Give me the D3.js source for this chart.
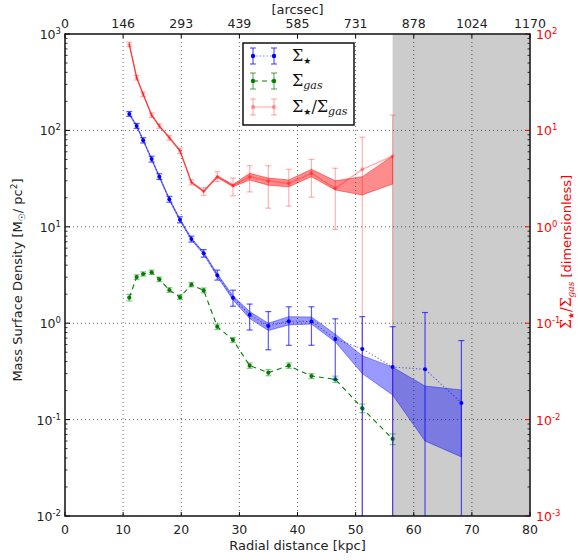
<!DOCTYPE html>
<html>
<head>
<meta charset="utf-8">
<script src="https://cdn.jsdelivr.net/npm/d3@7"></script>
<style>
  body { margin: 0; background: #fff; }
  svg { display: block; font-family: "DejaVu Sans", sans-serif; }
</style>
</head>
<body>
<svg id="chart" width="578" height="560"></svg>
<script>
// ---------- data ----------
const radius = [11.06, 12.33, 13.45, 14.9, 16.23, 17.95, 19.78, 21.74, 23.86, 26.2, 28.9, 31.77, 34.98, 38.5, 42.4, 46.5, 51.15, 56.37, 61.94, 68.2];

const sigmaStar   = [148, 111, 79, 50.5, 33.1, 19.3, 11.8, 7.47, 5.31, 3.14, 1.84, 1.22, 0.935, 1.05, 1.04, 0.685, 0.54, 0.351, 0.333, 0.149];
const starErrLo   = [140, 105, 74, 47, 31, 18, 11, 6.95, 4.85, 2.8, 1.5, 0.85, 0.53, 0.59, 0.59, 0.26, 0.001, 0.001, 0.001, 0.001];
const starErrHi   = [157, 118, 84, 54, 35.5, 20.7, 12.7, 8.0, 5.8, 3.55, 2.2, 1.58, 1.32, 1.48, 1.48, 1.11, 1.17, 0.92, 1.29, 0.66];
const starBandLo  = [145, 109, 77.5, 49.5, 32.4, 18.9, 11.55, 7.3, 5.18, 3.05, 1.74, 1.12, 0.84, 0.96, 0.98, 0.64, 0.30, 0.18, 0.06, 0.041];
const starBandHi  = [151, 113, 80.5, 51.5, 33.8, 19.7, 12.05, 7.65, 5.45, 3.25, 1.93, 1.32, 1.0, 1.17, 1.16, 0.77, 0.46, 0.35, 0.223, 0.203];

const sigmaGas    = [1.84, 3.01, 3.24, 3.37, 2.85, 2.21, 1.86, 2.51, 2.19, 0.92, 0.67, 0.363, 0.307, 0.363, 0.283, 0.262, 0.131, 0.063];
const gasErrLo    = [1.70, 2.85, 3.08, 3.20, 2.70, 2.09, 1.76, 2.38, 2.07, 0.86, 0.63, 0.34, 0.285, 0.34, 0.266, 0.243, 0.118, 0.055];
const gasErrHi    = [1.99, 3.18, 3.41, 3.55, 3.01, 2.34, 1.97, 2.65, 2.32, 0.98, 0.71, 0.387, 0.33, 0.387, 0.30, 0.282, 0.145, 0.071];

const ratio       = [78.2, 35.2, 23.7, 14.4, 11.1, 8.4, 6.16, 2.90, 2.33, 3.31, 2.67, 3.31, 2.99, 2.82, 3.59, 2.51, 3.95, 5.42];
const ratioErrLo  = [74, 33.3, 22.4, 13.6, 10.5, 7.9, 5.75, 2.72, 2.12, 2.94, 2.1, 2.3, 1.56, 1.64, 2.03, 0.94, 0.0001, 0.0001];
const ratioErrHi  = [82.5, 37.2, 25.0, 15.2, 11.7, 8.9, 6.55, 3.08, 2.55, 3.73, 3.2, 4.3, 4.3, 3.95, 5.0, 4.05, 8.5, 14.4];
const ratioBandLo = [77, 34.7, 23.35, 14.2, 10.95, 8.28, 6.07, 2.86, 2.29, 3.24, 2.61, 3.06, 2.7, 2.6, 3.31, 2.41, 2.14, 2.78];
const ratioBandHi = [79.4, 35.7, 24.05, 14.6, 11.25, 8.52, 6.25, 2.94, 2.37, 3.38, 2.74, 3.59, 3.2, 3.06, 3.95, 3.0, 3.31, 5.42];

const excludedFrom = 56.37;
const xTicks = [0, 10, 20, 30, 40, 50, 60, 70, 80];
const arcsecLabels = ["0", "146", "293", "439", "585", "731", "878", "1024", "1170"];
const leftExps = [-2, -1, 0, 1, 2, 3];
const rightExps = [-3, -2, -1, 0, 1, 2];

// ---------- layout ----------
const L = 65, R = 530, T = 34, B = 516;
const svg = d3.select("#chart");
const x = d3.scaleLinear().domain([0, 80]).range([L, R]);
const y = d3.scaleLog().domain([1e-2, 1e3]).range([B, T]);
const yR = d3.scaleLog().domain([1e-3, 1e2]).range([B, T]);

svg.append("defs").append("clipPath").attr("id", "clip")
  .append("rect").attr("x", L).attr("y", T).attr("width", R - L).attr("height", B - T);

const plot = svg.append("g").attr("clip-path", "url(#clip)");

// gray excluded region
plot.append("rect")
  .attr("x", x(excludedFrom)).attr("y", T)
  .attr("width", x(80) - x(excludedFrom)).attr("height", B - T)
  .attr("fill", "#cccccc");

// grid
const grid = plot.append("g").attr("stroke", "#000").attr("stroke-width", 0.8)
  .attr("stroke-dasharray", "1,3").attr("opacity", 0.75);
xTicks.slice(1, -1).forEach(t => grid.append("line").attr("x1", x(t)).attr("x2", x(t)).attr("y1", T).attr("y2", B));
leftExps.slice(1, -1).forEach(e => grid.append("line").attr("x1", L).attr("x2", R).attr("y1", y(Math.pow(10, e))).attr("y2", y(Math.pow(10, e))));

// helpers
function band(xs, lo, hi, yScale, color, op) {
  const idx = d3.range(lo.length);
  const area = d3.area().x(i => x(xs[i])).y0(i => yScale(lo[i])).y1(i => yScale(hi[i]));
  plot.append("path").datum(idx).attr("d", area)
    .attr("fill", color).attr("fill-opacity", op)
    .attr("stroke", color).attr("stroke-opacity", op).attr("stroke-width", 1);
}
function errbars(g, xs, lo, hi, yScale, color, op, cap) {
  const idx = d3.range(lo.length);
  const gg = g.append("g").attr("stroke", color).attr("stroke-opacity", op).attr("stroke-width", 1.2);
  idx.forEach(i => {
    const cx = x(xs[i]);
    gg.append("line").attr("x1", cx).attr("x2", cx).attr("y1", yScale(lo[i])).attr("y2", yScale(hi[i]));
    gg.append("line").attr("x1", cx - cap).attr("x2", cx + cap).attr("y1", yScale(lo[i])).attr("y2", yScale(lo[i]));
    gg.append("line").attr("x1", cx - cap).attr("x2", cx + cap).attr("y1", yScale(hi[i])).attr("y2", yScale(hi[i]));
  });
}

const rGas = radius.slice(0, sigmaGas.length);

// bands
band(radius, starBandLo, starBandHi, y, "#0000ff", 0.4);
band(rGas, ratioBandLo, ratioBandHi, yR, "#ff0000", 0.45);

// red ratio line (light)
const lineR = d3.line().x(i => x(rGas[i])).y(i => yR(ratio[i]));
plot.append("path").datum(d3.range(ratio.length)).attr("d", lineR)
  .attr("fill", "none").attr("stroke", "#ff0000").attr("stroke-opacity", 0.3).attr("stroke-width", 1.5);
errbars(plot, rGas, ratioErrLo, ratioErrHi, yR, "#ff0000", 0.3, 3);
plot.append("g").selectAll("circle").data(d3.range(ratio.length)).join("circle")
  .attr("cx", i => x(rGas[i])).attr("cy", i => yR(ratio[i])).attr("r", 2)
  .attr("fill", "#ff0000").attr("fill-opacity", 0.3);

// green gas
const lineG = d3.line().x(i => x(rGas[i])).y(i => y(sigmaGas[i]));
plot.append("path").datum(d3.range(sigmaGas.length)).attr("d", lineG)
  .attr("fill", "none").attr("stroke", "#008000").attr("stroke-width", 1.1).attr("stroke-dasharray", "5,4");
errbars(plot, rGas, gasErrLo, gasErrHi, y, "#008000", 0.45, 3);
plot.append("g").selectAll("circle").data(d3.range(sigmaGas.length)).join("circle")
  .attr("cx", i => x(rGas[i])).attr("cy", i => y(sigmaGas[i])).attr("r", 2.1)
  .attr("fill", "#008000");

// blue stars
const lineB = d3.line().x(i => x(radius[i])).y(i => y(sigmaStar[i]));
plot.append("path").datum(d3.range(sigmaStar.length)).attr("d", lineB)
  .attr("fill", "none").attr("stroke", "#0000ff").attr("stroke-opacity", 0.6).attr("stroke-width", 1.1).attr("stroke-dasharray", "1.2,2.2");
errbars(plot, radius, starErrLo, starErrHi, y, "#0000ff", 0.65, 3);
plot.append("g").selectAll("circle").data(d3.range(sigmaStar.length)).join("circle")
  .attr("cx", i => x(radius[i])).attr("cy", i => y(sigmaStar[i])).attr("r", 2)
  .attr("fill", "#0000ff");

// ---------- axes ----------
const ax = svg.append("g");
xTicks.forEach((t, i) => {
  ax.append("line").attr("x1", x(t)).attr("x2", x(t)).attr("y1", B).attr("y2", B - 4).attr("stroke", "#000");
  ax.append("line").attr("x1", x(t)).attr("x2", x(t)).attr("y1", T).attr("y2", T + 4).attr("stroke", "#000");
  ax.append("text").attr("x", x(t)).attr("y", B + 18).attr("text-anchor", "middle")
    .attr("font-size", 12.5).attr("fill", "#222").text(t);
  ax.append("text").attr("x", x(t)).attr("y", T - 6).attr("text-anchor", "middle")
    .attr("font-size", 12.5).attr("fill", "#222").text(arcsecLabels[i]);
});
function logTicks(scale, exps, xPos, dir, majorColor) {
  exps.forEach((e, k) => {
    const v = Math.pow(10, e);
    ax.append("line").attr("x1", xPos).attr("x2", xPos + dir * 5).attr("y1", scale(v)).attr("y2", scale(v))
      .attr("stroke", majorColor).attr("stroke-width", 1);
    if (k < exps.length - 1) {
      for (let m = 2; m <= 9; m++) {
        const yy = scale(m * v);
        ax.append("line").attr("x1", xPos).attr("x2", xPos + dir * 2.5).attr("y1", yy).attr("y2", yy)
          .attr("stroke", "#000").attr("stroke-width", 0.8);
      }
    }
  });
}
logTicks(y, leftExps, L, 1, "#000");
logTicks(yR, rightExps, R, -1, "#ff0000");

function powLabel(xPos, yPos, exp, color, anchor) {
  const t = ax.append("text").attr("x", xPos).attr("y", yPos + 5).attr("text-anchor", anchor)
    .attr("font-size", 12.5).attr("fill", color);
  t.append("tspan").text("10");
  t.append("tspan").attr("font-size", 8.5).attr("dy", -5).text(exp);
}
leftExps.forEach(e => powLabel(L - 4, y(Math.pow(10, e)), e, "#222", "end"));
rightExps.forEach(e => powLabel(R + 6, yR(Math.pow(10, e)), e, "#ff0000", "start"));

// frame
svg.append("rect").attr("x", L).attr("y", T).attr("width", R - L).attr("height", B - T)
  .attr("fill", "none").attr("stroke", "#111").attr("stroke-width", 1.5);

// axis titles
svg.append("text").attr("x", (L + R) / 2).attr("y", 550).attr("text-anchor", "middle")
  .attr("font-size", 13).attr("fill", "#222").text("Radial distance [kpc]");
svg.append("text").attr("x", (L + R) / 2).attr("y", 14).attr("text-anchor", "middle")
  .attr("font-size", 13).attr("fill", "#222").text("[arcsec]");

const yl = svg.append("text").attr("transform", `translate(22,${(T + B) / 2 + 5}) rotate(-90)`)
  .attr("text-anchor", "middle").attr("font-size", 13).attr("fill", "#222");
yl.append("tspan").text("Mass Surface Density [M");
yl.append("tspan").attr("font-size", 9).attr("dy", 3).text("☉");
yl.append("tspan").attr("dy", -3).text("/ pc");
yl.append("tspan").attr("font-size", 9).attr("dy", -5).text("2");
yl.append("tspan").attr("dy", 5).text("]");

const yr = svg.append("text").attr("transform", `translate(571,${(T + B) / 2 - 23}) rotate(-90)`)
  .attr("text-anchor", "middle").attr("font-size", 13).attr("fill", "#ff0000");
yr.append("tspan").attr("font-family", "DejaVu Serif").attr("font-size", 14).text("Σ");
yr.append("tspan").attr("font-size", 8).attr("dy", 3).text("★");
yr.append("tspan").attr("dy", -3).attr("font-family", "DejaVu Serif").attr("font-size", 14).text("/Σ");
yr.append("tspan").attr("font-size", 9).attr("font-style", "italic").attr("font-family", "DejaVu Serif").attr("dy", 3).text("gas");
yr.append("tspan").attr("dy", -3).text(" [dimensionless]");

// ---------- legend ----------
const lg = svg.append("g");
lg.append("rect").attr("x", 243).attr("y", 43).attr("width", 111).attr("height", 82)
  .attr("fill", "#fff").attr("stroke", "#111").attr("stroke-width", 1.5);
const lx1 = 253, lx2 = 274;
const rows = [
  { y: 56, color: "#0000ff", dash: "1.2,2.2", lineOp: 0.6, barOp: 0.65, ptOp: 1 },
  { y: 81, color: "#008000", dash: "5,4", lineOp: 1, barOp: 0.6, ptOp: 1 },
  { y: 107, color: "#ff0000", dash: null, lineOp: 0.3, barOp: 0.3, ptOp: 0.3 }
];
rows.forEach(r => {
  const ln = lg.append("line").attr("x1", lx1).attr("x2", lx2).attr("y1", r.y).attr("y2", r.y)
    .attr("stroke", r.color).attr("stroke-opacity", r.lineOp).attr("stroke-width", 1.2);
  if (r.dash) ln.attr("stroke-dasharray", r.dash);
  [lx1, lx2].forEach(cx => {
    const g = lg.append("g").attr("stroke", r.color).attr("stroke-opacity", r.barOp).attr("stroke-width", 1.2);
    g.append("line").attr("x1", cx).attr("x2", cx).attr("y1", r.y - 8).attr("y2", r.y + 8);
    g.append("line").attr("x1", cx - 3).attr("x2", cx + 3).attr("y1", r.y - 8).attr("y2", r.y - 8);
    g.append("line").attr("x1", cx - 3).attr("x2", cx + 3).attr("y1", r.y + 8).attr("y2", r.y + 8);
    lg.append("circle").attr("cx", cx).attr("cy", r.y).attr("r", 2.2).attr("fill", r.color).attr("fill-opacity", r.ptOp);
  });
});
function sig(t) { return t.append("tspan").attr("font-family", "DejaVu Serif").attr("font-size", 16); }
const t1 = lg.append("text").attr("x", 292).attr("y", 61).attr("fill", "#111");
sig(t1).text("Σ"); t1.append("tspan").attr("font-size", 9).attr("dy", 3).text("★");
const t2 = lg.append("text").attr("x", 292).attr("y", 86).attr("fill", "#111");
sig(t2).text("Σ"); t2.append("tspan").attr("font-size", 11).attr("font-style", "italic").attr("font-family", "DejaVu Serif").attr("dy", 3).text("gas");
const t3 = lg.append("text").attr("x", 292).attr("y", 112).attr("fill", "#111");
sig(t3).text("Σ"); t3.append("tspan").attr("font-size", 9).attr("dy", 3).text("★");
sig(t3).attr("dy", -3).text("/Σ"); t3.append("tspan").attr("font-size", 11).attr("font-style", "italic").attr("font-family", "DejaVu Serif").attr("dy", 3).text("gas");
</script>
</body>
</html>
